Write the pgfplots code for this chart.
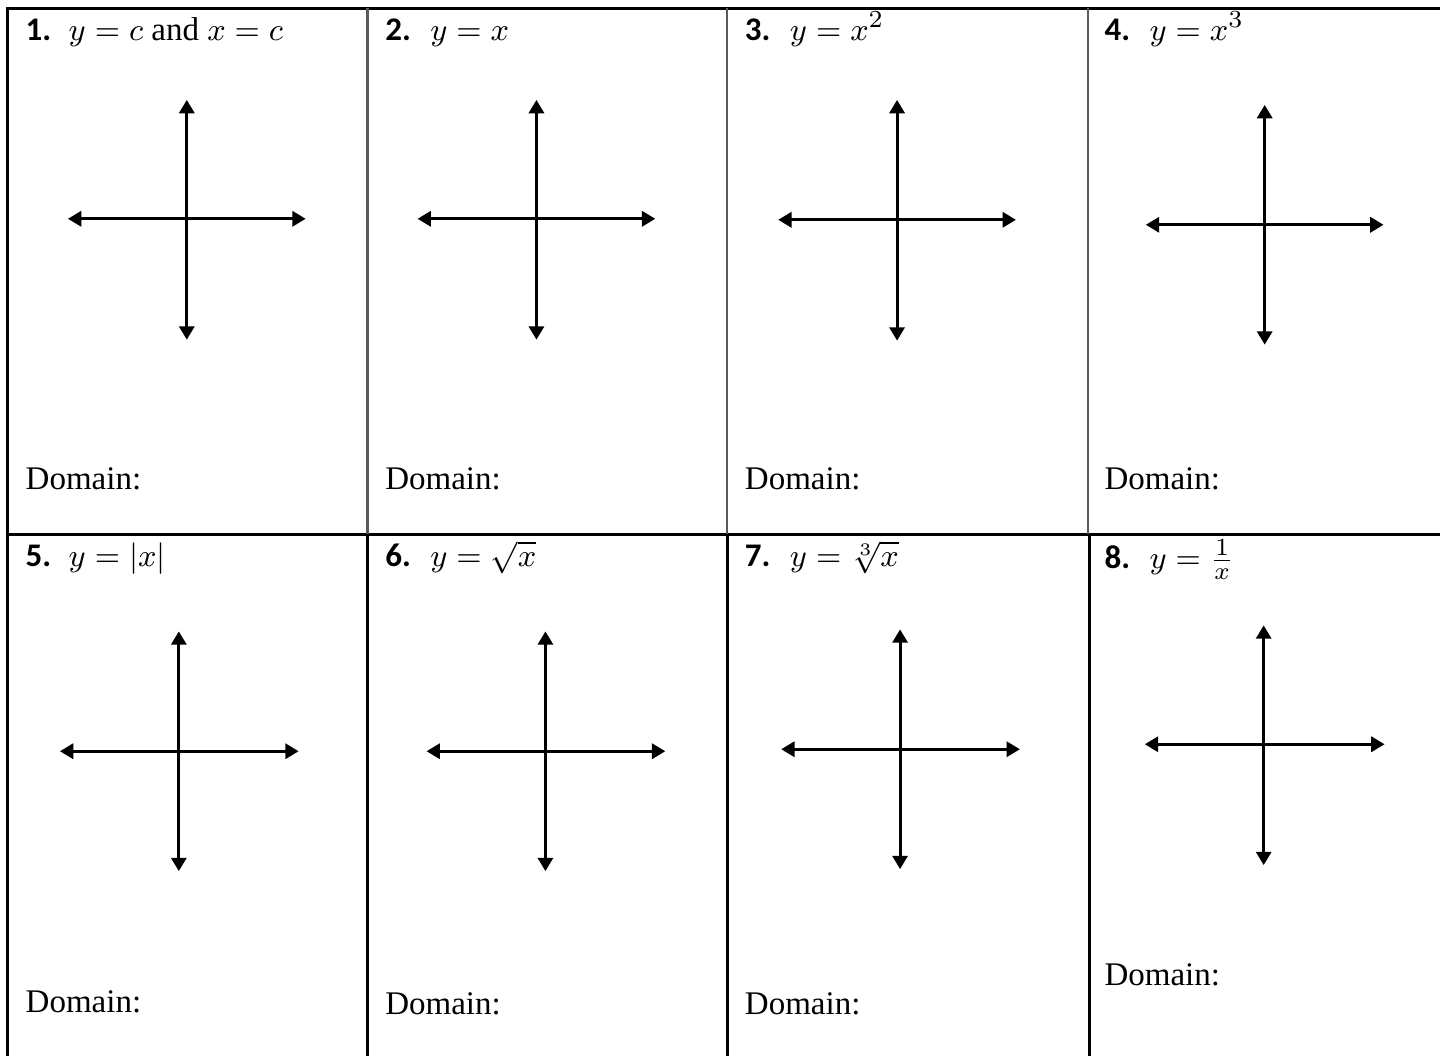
\documentclass[border=0pt]{standalone}
\usepackage{fontspec}
\setmainfont{Liberation Serif}
\newfontfamily\numfont{Carlito}
\usepackage{pgfplots}
\pgfplotsset{compat=1.18}
\usetikzlibrary{arrows.meta}
\tikzset{
  cross/.style={black, line width=0.85pt, {Triangle[width=4.3pt,length=3.8pt]}-{Triangle[width=4.3pt,length=3.8pt]}},
  border/.style={black, line width=0.85pt},
  lbl/.style={anchor=base west, inner sep=0pt, font=\fontsize{9.4}{11}\selectfont}}
\begin{document}
\begin{tikzpicture}
\begin{axis}[scale only axis, width=14.41cm, height=10.57cm,
  xmin=0, xmax=1441, ymin=0, ymax=1057, y dir=reverse,
  hide axis, clip=false]
% frame of the whole page (invisible, fixes the bounding box)
\addplot[draw=none] coordinates {(0,0) (1441,0) (1441,1057) (0,1057)};
% table borders
\addplot[border] coordinates {(1441,8) (8,8) (8,1057)};
\addplot[border] coordinates {(8,535) (1441,535)};
\addplot[black!65, line width=0.7pt] coordinates {(368,8) (368,535)};
\addplot[black!65, line width=0.7pt] coordinates {(728,8) (728,535)};
\addplot[black!65, line width=0.7pt] coordinates {(1089,8) (1089,535)};
\addplot[border] coordinates {(368,535) (368,1057)};
\addplot[border] coordinates {(728,535) (728,1057)};
\addplot[border] coordinates {(1091,535) (1091,1057)};
% crosses row 1
\addplot[cross] coordinates {(68,219) (306,219)};
\addplot[cross] coordinates {(187,100) (187,340)};
\addplot[cross] coordinates {(418,219) (656,219)};
\addplot[cross] coordinates {(537,100) (537,340)};
\addplot[cross] coordinates {(779,220) (1017,220)};
\addplot[cross] coordinates {(898,100) (898,341)};
\addplot[cross] coordinates {(1147,225) (1385,225)};
\addplot[cross] coordinates {(1266,105) (1266,345)};
% crosses row 2
\addplot[cross] coordinates {(60,752) (299,752)};
\addplot[cross] coordinates {(179,632) (179,872)};
\addplot[cross] coordinates {(427,752) (666,752)};
\addplot[cross] coordinates {(546,632) (546,872)};
\addplot[cross] coordinates {(782,750) (1021,750)};
\addplot[cross] coordinates {(901,630) (901,870)};
\addplot[cross] coordinates {(1146,745) (1386,745)};
\addplot[cross] coordinates {(1265,626) (1265,866)};
% titles row 1
\node[lbl] at (axis cs:25,41) {\numfont\bfseries 1.};
\node[lbl] at (axis cs:68,41) {$y=c$ and $x=c$};
\node[lbl] at (axis cs:385,41) {\numfont\bfseries 2.};
\node[lbl] at (axis cs:430,41) {$y=x$};
\node[lbl] at (axis cs:745,41) {\numfont\bfseries 3.};
\node[lbl] at (axis cs:790,41) {$y=x^2$};
\node[lbl] at (axis cs:1105,41) {\numfont\bfseries 4.};
\node[lbl] at (axis cs:1150,41) {$y=x^3$};
% titles row 2
\node[lbl] at (axis cs:25,567) {\numfont\bfseries 5.};
\node[lbl] at (axis cs:68,567) {$y=|x|$};
\node[lbl] at (axis cs:385,567) {\numfont\bfseries 6.};
\node[lbl] at (axis cs:430,567) {$y=\sqrt{x}$};
\node[lbl] at (axis cs:745,567) {\numfont\bfseries 7.};
\node[lbl] at (axis cs:790,567) {$y=\sqrt[3]{x}$};
\node[lbl] at (axis cs:1105,569) {\numfont\bfseries 8.};
\node[lbl] at (axis cs:1150,569) {$y=\frac{1}{x}$};
% domain labels
\node[lbl] at (axis cs:25,490) {Domain:};
\node[lbl] at (axis cs:385,490) {Domain:};
\node[lbl] at (axis cs:745,490) {Domain:};
\node[lbl] at (axis cs:1105,490) {Domain:};
\node[lbl] at (axis cs:25,1014) {Domain:};
\node[lbl] at (axis cs:385,1016) {Domain:};
\node[lbl] at (axis cs:745,1016) {Domain:};
\node[lbl] at (axis cs:1105,987) {Domain:};
\end{axis}
\end{tikzpicture}
\end{document}
